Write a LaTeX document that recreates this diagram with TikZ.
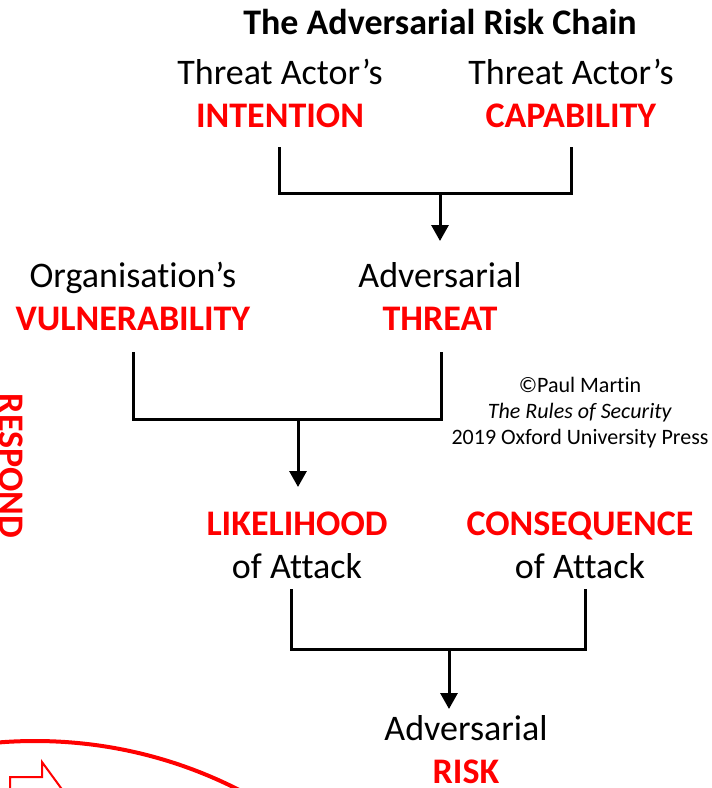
\documentclass[tikz,border=0pt]{standalone}
\usepackage{fontspec}
\setmainfont{Carlito}[Ligatures=NoCommon]
\usepackage{xcolor}
\usetikzlibrary{arrows.meta}
\definecolor{ChainInk}{HTML}{000000}
\definecolor{ChainRed}{HTML}{FF0000}
\newcommand{\Key}[1]{\textcolor{ChainRed}{\textbf{#1}}}
\tikzset{
  chain/.style={x=1pt,y=-1pt,font=\fontsize{36}{43}\selectfont,text=ChainInk},
  term/.style={anchor=base,align=center,inner sep=0pt},
  bracket/.style={line width=3pt,draw=ChainInk},
  feed/.style={-{Triangle[length=16pt,width=17pt]},line width=3pt,draw=ChainInk},
  ring/.style={line width=4pt,draw=ChainRed},
}

\begin{document}
\begin{tikzpicture}[chain]
  \useasboundingbox (0,0) rectangle (712,788);
  \clip (0,0) rectangle (712,788);

  \node[term,font=\fontsize{36}{43}\selectfont\bfseries] (title) at (440,34) {The Adversarial Risk Chain};

  \node[term] (intention) at (280,127) {Threat Actor’s\\\Key{INTENTION}};
  \node[term] (capability) at (571,127) {Threat Actor’s\\\Key{CAPABILITY}};
  \node[term] (vulnerability) at (133,330) {Organisation’s\\\Key{VULNERABILITY}};
  \node[term] (threat) at (440,330) {Adversarial\\\Key{THREAT}};
  \node[term] (likelihood) at (297,578) {\Key{LIKELIHOOD}\\of Attack};
  \node[term] (consequence) at (580,578) {\Key{CONSEQUENCE}\\of Attack};
  \node[term] (risk) at (466,783) {Adversarial\\\Key{RISK}};

  \node[term,font=\fontsize{22}{26}\selectfont] (credit) at (580,444)
    {©Paul Martin\\\textit{The Rules of Security}\\2019 Oxford University Press};

  \node[term,rotate=-90,text=ChainRed,font=\fontsize{36}{43}\selectfont\bfseries] (respond) at (-1,466) {RESPOND};

  % intention + capability -> threat
  \coordinate (join1) at (440,193);
  \coordinate (tip1) at (440,241);
  \draw[bracket] (279,147) |- (join1) -| (571,147);
  \draw[feed] (join1) -- (tip1);

  % vulnerability + threat -> likelihood
  \coordinate (join2) at (298,419);
  \coordinate (tip2) at (298,487);
  \draw[bracket] (133,352) |- (join2) -| (441,352);
  \draw[feed] (join2) -- (tip2);

  % likelihood + consequence -> risk
  \coordinate (join3) at (449,649);
  \coordinate (tip3) at (449,709);
  \draw[bracket] (291,589) |- (join3) -| (585,589);
  \draw[feed] (join3) -- (tip3);

  % cut-off cycle behind the chain
  \draw[ring] (35,1190) circle (449);
  \draw[ring,line width=2pt] (10,800) -- (10,777) -- (42,777) -- (42,762) -- (72,803);
\end{tikzpicture}
\end{document}
